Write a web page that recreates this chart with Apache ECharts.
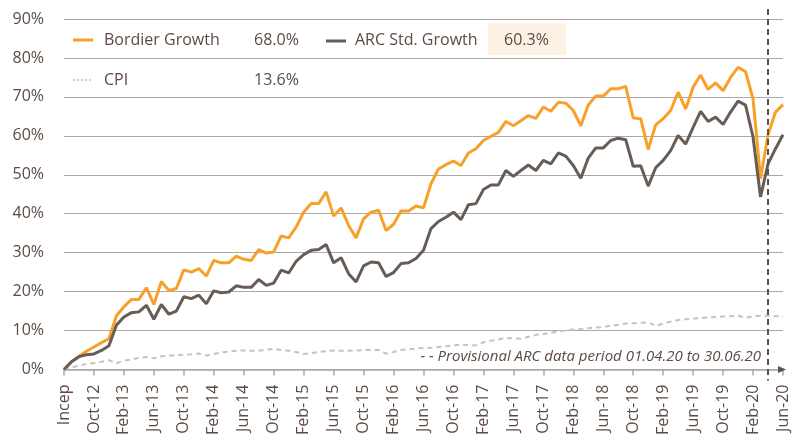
<!DOCTYPE html>
<html><head><meta charset="utf-8">
<script src="https://cdn.jsdelivr.net/npm/echarts@6/dist/echarts.min.js"></script>
<style>html,body{margin:0;padding:0;background:#fff}#c{width:804px;height:438px}</style>
</head><body><div id="c"></div>
<script>
const categories = [
 'Incep','Jul-12','Aug-12','Sep-12','Oct-12','Nov-12','Dec-12',
 'Jan-13','Feb-13','Mar-13','Apr-13','May-13','Jun-13','Jul-13','Aug-13','Sep-13','Oct-13','Nov-13','Dec-13',
 'Jan-14','Feb-14','Mar-14','Apr-14','May-14','Jun-14','Jul-14','Aug-14','Sep-14','Oct-14','Nov-14','Dec-14',
 'Jan-15','Feb-15','Mar-15','Apr-15','May-15','Jun-15','Jul-15','Aug-15','Sep-15','Oct-15','Nov-15','Dec-15',
 'Jan-16','Feb-16','Mar-16','Apr-16','May-16','Jun-16','Jul-16','Aug-16','Sep-16','Oct-16','Nov-16','Dec-16',
 'Jan-17','Feb-17','Mar-17','Apr-17','May-17','Jun-17','Jul-17','Aug-17','Sep-17','Oct-17','Nov-17','Dec-17',
 'Jan-18','Feb-18','Mar-18','Apr-18','May-18','Jun-18','Jul-18','Aug-18','Sep-18','Oct-18','Nov-18','Dec-18',
 'Jan-19','Feb-19','Mar-19','Apr-19','May-19','Jun-19','Jul-19','Aug-19','Sep-19','Oct-19','Nov-19','Dec-19',
 'Jan-20','Feb-20','Mar-20','Apr-20','May-20','Jun-20'];

const bordierGrowth = [
 0,2.0,3.4,4.7,5.8,6.9,7.9,13.8,16.1,18.0,18.0,21.0,16.7,22.6,20.3,20.8,
 25.6,25.0,25.9,24.0,28.0,27.4,27.4,29.1,28.3,28.0,30.8,29.9,30.2,34.3,33.8,36.6,
 40.4,42.6,42.6,45.6,39.4,41.5,37.0,33.8,38.7,40.4,40.9,35.7,37.3,40.7,40.7,42.0,
 41.5,47.7,51.5,52.6,53.5,52.4,55.6,56.7,58.8,59.9,60.9,63.7,62.6,63.9,65.2,64.5,
 67.4,66.3,68.6,68.4,66.5,62.6,67.9,70.2,70.2,72.1,72.1,72.7,64.6,64.4,56.5,62.8,
 64.4,66.5,71.2,66.9,72.5,75.6,71.9,73.6,71.6,75.0,77.6,76.5,69.5,49.0,60.3,66.1,68.0];

const arcGrowth = [
 0,2.0,3.3,3.8,4.0,4.9,6.1,11.4,13.5,14.6,14.8,16.5,12.9,16.7,14.2,15.0,
 18.7,18.2,19.1,16.9,20.2,19.7,19.9,21.5,21.1,21.1,23.1,21.6,22.2,25.5,24.8,27.8,
 29.5,30.6,30.8,32.1,27.4,28.7,24.6,22.5,26.6,27.6,27.4,23.9,24.9,27.2,27.4,28.5,
 30.6,36.2,38.0,39.1,40.4,38.5,42.3,42.6,46.2,47.4,47.4,51.1,49.6,51.1,52.5,51.1,
 53.7,52.8,55.6,54.8,52.4,49.1,54.3,56.9,56.9,58.8,59.4,59.0,52.2,52.3,47.1,51.8,
 53.7,56.2,60.1,57.9,62.2,66.3,63.7,64.8,62.9,66.1,68.9,67.9,59.7,44.3,52.8,56.7,60.3];

const cpi = [
 0,0.5,1.0,1.4,1.7,2.0,2.4,1.6,2.3,2.6,3.0,3.2,2.9,3.4,3.5,3.7,
 3.8,3.9,4.1,3.6,4.0,4.4,4.6,4.8,4.9,4.8,4.9,5.0,5.3,5.0,4.8,4.5,
 4.0,4.2,4.5,4.7,4.9,4.8,4.8,4.9,5.0,5.0,5.0,4.1,4.5,5.0,5.2,5.4,
 5.5,5.6,5.8,6.0,6.2,6.4,6.3,6.2,7.0,7.4,7.7,8.1,8.0,7.9,8.4,8.9,
 9.1,9.4,9.8,10.0,10.3,10.4,10.6,10.8,10.9,11.3,11.5,11.8,11.9,12.0,12.1,11.2,
 11.8,12.3,12.7,12.9,13.1,13.2,13.4,13.5,13.6,13.7,13.8,13.3,13.7,13.8,13.8,13.7,13.6];

const seriesNames = ['Bordier Growth', 'ARC Std. Growth', 'CPI'];
const provisionalStart = 'Apr-20';
const noteText = 'Provisional ARC data period 01.04.20 to 30.06.20';

const ORANGE = '#F7A12B', GREY = '#685C57', CPIC = '#c3c3c3', TXT = '#5b4b43', GRID = '#a9a9a9';
const FONT = 'Open Sans';

const chart = echarts.init(document.getElementById('c'), null, {renderer: 'canvas'});
const option = {
  animation: false,
  backgroundColor: '#fff',
  textStyle: {fontFamily: FONT, color: TXT},
  grid: {left: 64, right: 21, top: 19, bottom: 67, containLabel: false},
  xAxis: {
    type: 'category', data: categories, boundaryGap: false,
    axisLine: {show: true, lineStyle: {color: GRID, width: 1.5}},
    axisTick: {show: true, interval: 3, length: 6, lineStyle: {color: GRID, width: 1.5}},
    axisLabel: {interval: 3, rotate: 90, margin: 15, fontSize: 16, color: TXT, fontFamily: FONT},
    splitLine: {show: false}
  },
  yAxis: {
    type: 'value', min: 0, max: 90, interval: 10,
    axisLine: {show: false}, axisTick: {show: false},
    axisLabel: {formatter: '{value}%', fontSize: 16, color: TXT, margin: 20, fontFamily: FONT},
    splitLine: {lineStyle: {color: GRID, width: 1.2}}
  },
  series: [
    {name: seriesNames[2], type: 'line', data: cpi, symbol: 'none', z: 2,
     lineStyle: {color: CPIC, width: 2, type: [5, 4]}},
    {name: seriesNames[0], type: 'line', data: bordierGrowth, symbol: 'none', z: 3,
     lineStyle: {color: ORANGE, width: 3}},
    {name: seriesNames[1], type: 'line', data: arcGrowth, symbol: 'none', z: 4,
     lineStyle: {color: GREY, width: 3}}
  ]
};
chart.setOption(option);

const lastPct = a => a[a.length - 1].toFixed(1) + '%';
const pTop = chart.convertToPixel({gridIndex: 0}, [provisionalStart, 90]);
const pBot = chart.convertToPixel({gridIndex: 0}, [provisionalStart, 0]);
const pEnd = chart.convertToPixel({gridIndex: 0}, [categories[categories.length - 1], 0]);

const txt = (x, y, s, extra) => Object.assign({type: 'text', x: x, y: y, z: 100,
  style: Object.assign({text: s, fill: TXT, fontSize: 16, fontFamily: FONT, verticalAlign: 'middle', align: 'left'}, extra || {})});

chart.setOption({graphic: [
  {type: 'rect', shape: {x: 488, y: 23, width: 78, height: 32}, style: {fill: '#fdf1e5'}, z: 90},
  {type: 'line', shape: {x1: 73, y1: 40, x2: 93, y2: 40}, style: {stroke: ORANGE, lineWidth: 3}, z: 100},
  txt(104, 40, seriesNames[0]),
  txt(254, 40, lastPct(bordierGrowth)),
  {type: 'line', shape: {x1: 326, y1: 41, x2: 346, y2: 41}, style: {stroke: GREY, lineWidth: 3}, z: 100},
  txt(355, 40, seriesNames[1]),
  txt(504, 40, lastPct(arcGrowth)),
  {type: 'line', shape: {x1: 73, y1: 80, x2: 93, y2: 80}, style: {stroke: '#d0d0d0', lineWidth: 2, lineDash: [2, 2]}, z: 100},
  txt(104, 80, seriesNames[2]),
  txt(254, 80, lastPct(cpi)),
  {type: 'line', shape: {x1: pTop[0], y1: pTop[1] - 10, x2: pBot[0], y2: pBot[1] + 11},
   style: {stroke: '#5b504b', lineWidth: 2, lineDash: [6, 4]}, z: 100},
  {type: 'polygon', shape: {points: [[pEnd[0] - 5, pEnd[1] - 3.5], [pEnd[0] + 3, pEnd[1]], [pEnd[0] - 5, pEnd[1] + 3.5]]},
   style: {fill: '#5b504b'}, z: 100},
  {type: 'text', x: pTop[0] - 7, y: pBot[1] - 13, z: 100,
   style: {text: '- - {t|' + noteText + '}', fill: '#5b504b', fontSize: 15, fontFamily: FONT, fontStyle: 'italic',
     align: 'right', verticalAlign: 'middle',
     rich: {t: {fill: TXT, fontSize: 15, fontFamily: FONT, fontStyle: 'italic'}}}}
]});
</script></body></html>
